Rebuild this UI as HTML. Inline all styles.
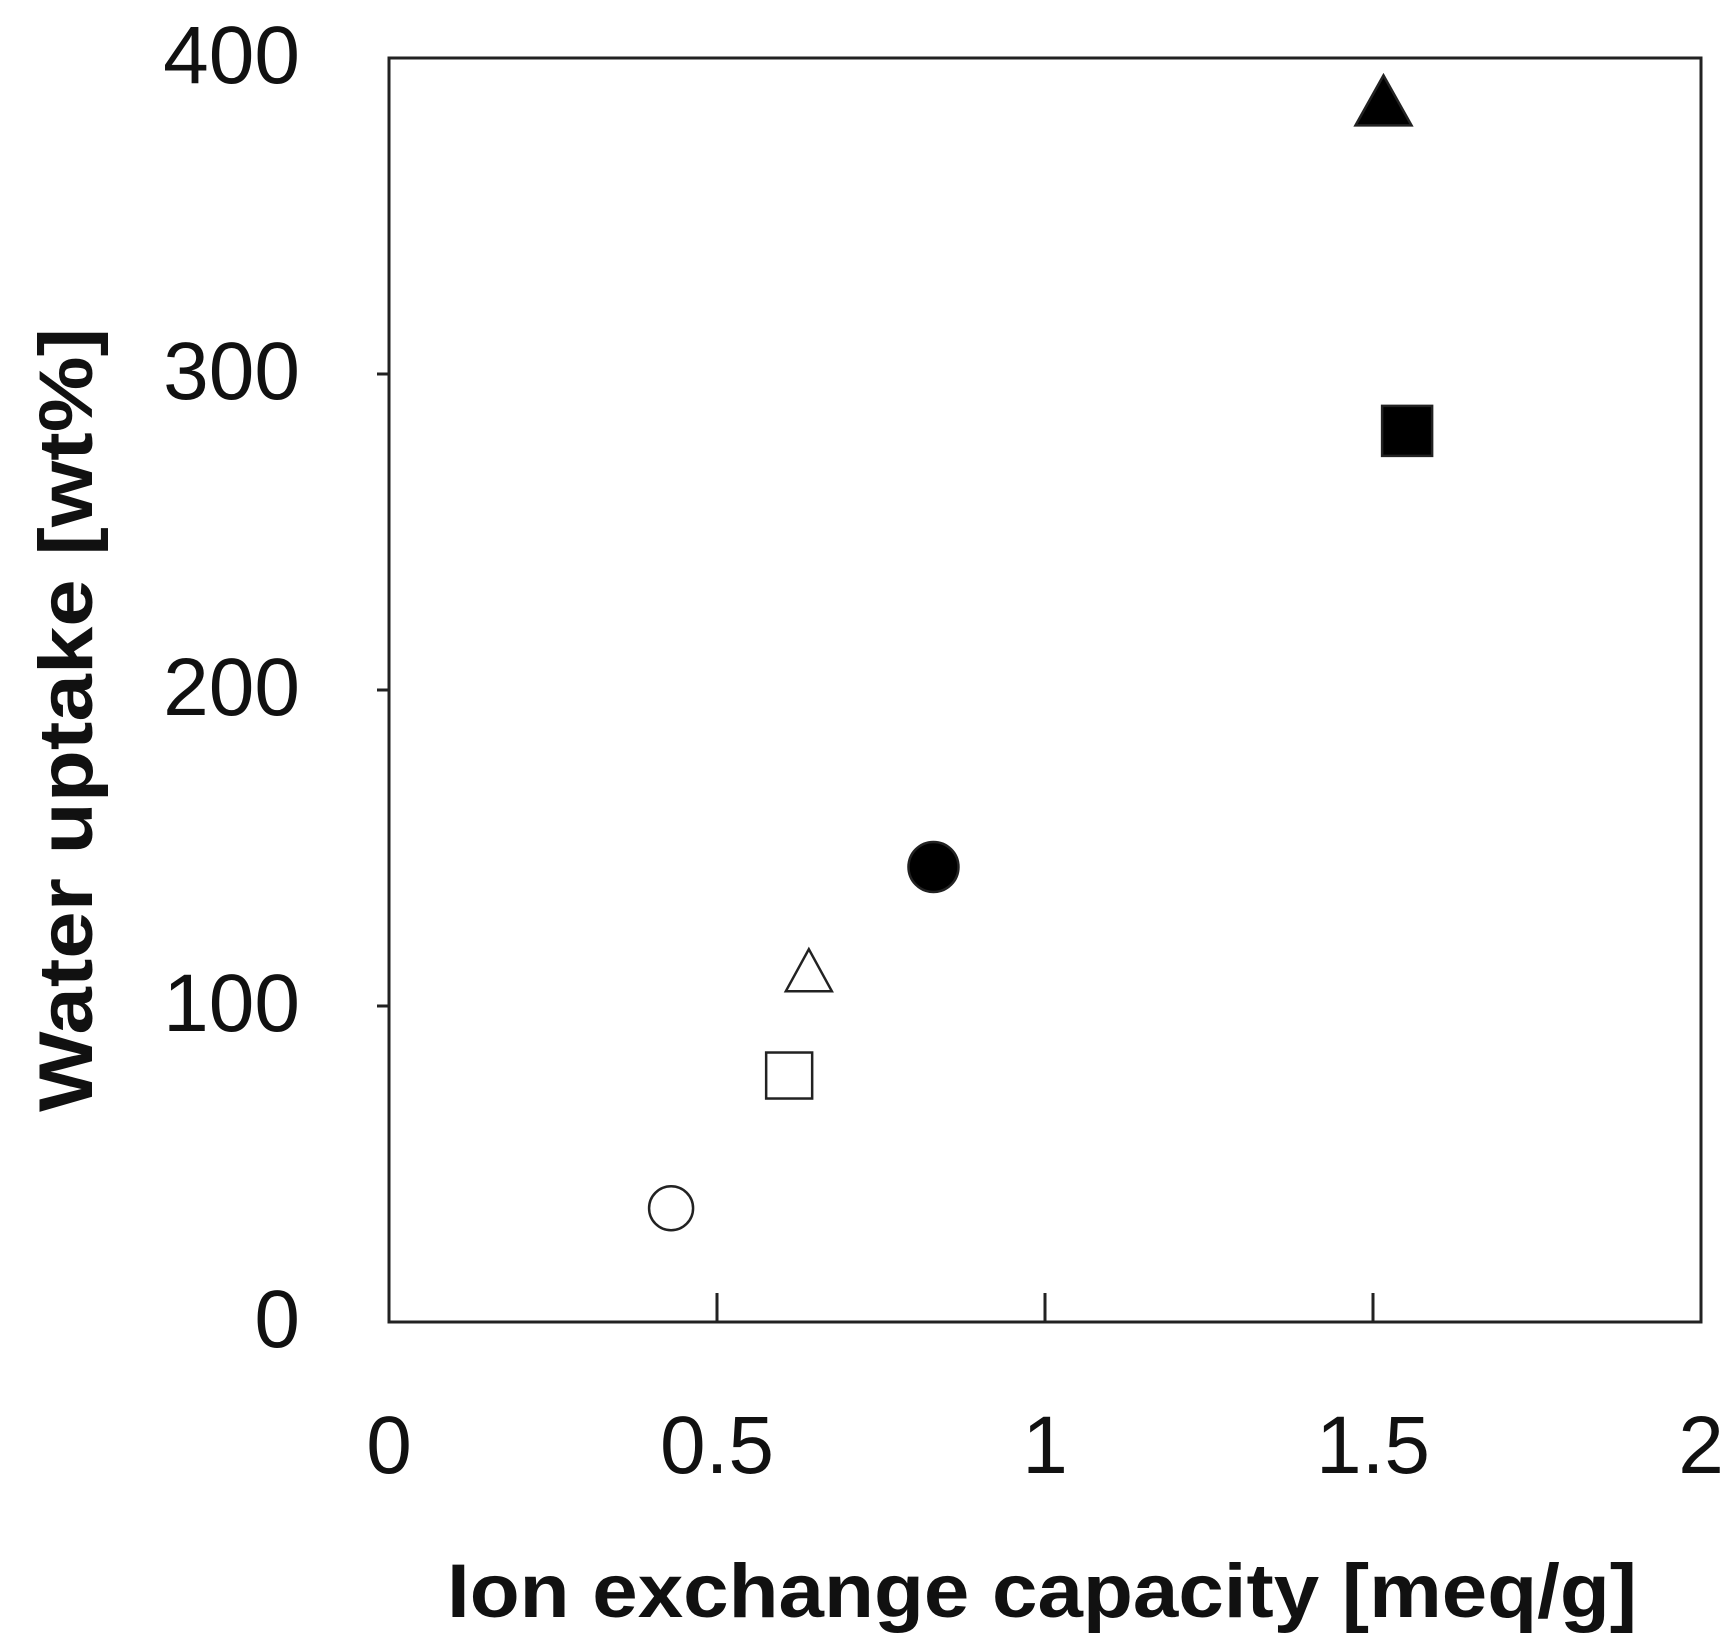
<!DOCTYPE html>
<html><head><meta charset="utf-8"><style>
html,body{margin:0;padding:0;background:#fff;}
svg{display:block;font-family:"Liberation Sans",sans-serif;}
</style></head><body>
<svg id="chart" width="1735" height="1652" viewBox="0 0 1735 1652">
<rect x="389" y="58" width="1312" height="1264" fill="none" stroke="#222" stroke-width="3"/>
<g id="ticks"></g>
<g id="marks"></g>
<text x="1042" y="1617" text-anchor="middle" font-size="76" font-weight="bold" textLength="1190" lengthAdjust="spacingAndGlyphs" fill="#111">Ion exchange capacity [meq/g]</text>
<text transform="translate(92,720) rotate(-90)" text-anchor="middle" font-size="76" font-weight="bold" textLength="784" lengthAdjust="spacingAndGlyphs" fill="#111">Water uptake [wt%]</text>
</svg>
<script>
const xTicks = [0, 0.5, 1, 1.5, 2];
const xTickLabels = ["0", "0.5", "1", "1.5", "2"];
const yTicks = [0, 100, 200, 300, 400];
const yTickLabels = ["0", "100", "200", "300", "400"];
const seriesNames = ["open-circle", "open-square", "open-triangle", "filled-circle", "filled-triangle", "filled-square"];
const xValues = [0.43, 0.61, 0.64, 0.83, 1.516, 1.552];
const yValues = [36, 78, 110, 144, 385, 282];

const NS = "http://www.w3.org/2000/svg";
const L = 389, R = 1701, T = 58, B = 1322;
function xs(v){ return L + (v - 0) / 2 * (R - L); }
function ys(v){ return B - (v - 0) / 400 * (B - T); }
function mk(tag, attrs, parent){
  const e = document.createElementNS(NS, tag);
  for (const k in attrs) e.setAttribute(k, attrs[k]);
  parent.appendChild(e); return e;
}
const tg = document.getElementById("ticks");
xTicks.forEach((v, i) => {
  const x = xs(v);
  if (i > 0 && i < xTicks.length - 1) {
    const t = mk("line", {x1:x, x2:x, y1:B, y2:B-29, stroke:"#222", "stroke-width":3}, tg);
    
    
  }
  const lb = mk("text", {x:x, y:1473, "text-anchor":"middle", "font-size":82, fill:"#111"}, tg);
  lb.textContent = xTickLabels[i];
  
  
});
yTicks.forEach((v, i) => {
  const y = ys(v);
  if (i > 0 && i < yTicks.length - 1) {
    const t = mk("line", {x1:L-12, x2:L, y1:y, y2:y, stroke:"#222", "stroke-width":3}, tg);
    
    
  }
  const lb = mk("text", {x:300, y:y+25, "text-anchor":"end", "font-size":82, fill:"#111"}, tg);
  lb.textContent = yTickLabels[i];
  
  
});
const mg = document.getElementById("marks");
seriesNames.forEach((n, i) => {
  const x = xs(xValues[i]), y = ys(yValues[i]);
  const filled = n.startsWith("filled");
  const fill = filled ? "#000" : "#fff";
  let e;
  if (n.endsWith("circle")) {
    e = mk("circle", {cx:x, cy:y, r:filled?25:22, fill:fill, stroke:"#222", "stroke-width":2.5}, mg);
  } else if (n.endsWith("square")) {
    const s = filled ? 50 : 46;
    e = mk("rect", {x:x-s/2, y:y-s/2, width:s, height:s, fill:fill, stroke:"#222", "stroke-width":2.5}, mg);
  } else {
    const w = filled ? 56 : 46, h = filled ? 50 : 42;
    e = mk("polygon", {points:`${x},${y-h*0.6} ${x-w/2},${y+h*0.4} ${x+w/2},${y+h*0.4}`, fill:fill, stroke:"#222", "stroke-width":2.5}, mg);
  }
  
  
});
</script>
</body></html>
